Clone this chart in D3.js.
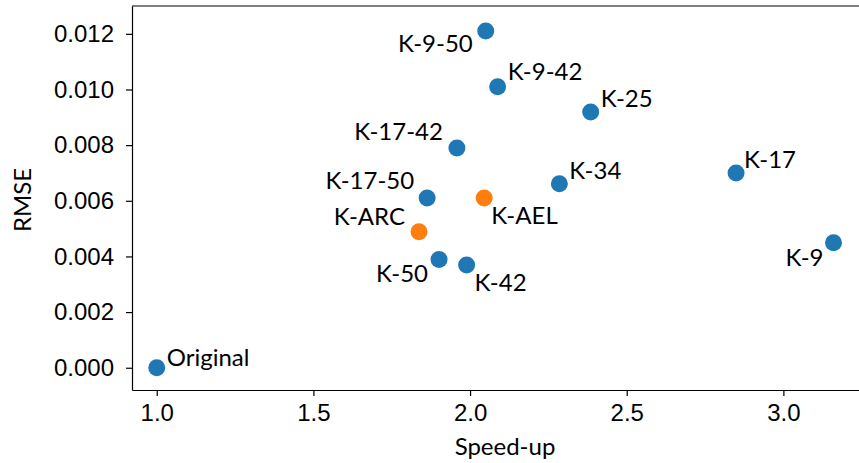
<!DOCTYPE html>
<html>
<head>
<meta charset="utf-8">
<script src="https://cdn.jsdelivr.net/npm/d3@7"></script>
<style>
  body { margin: 0; background: #fff; }
  svg { display: block; font-family: Lato, "Open Sans", sans-serif; }
  .axis text { font-size: 24px; fill: #000; }
  .axis path, .axis line { stroke: #000; stroke-width: 1.2; }
  .lbl { font-size: 24px; fill: #000; }
</style>
</head>
<body>
<svg id="chart" width="859" height="463"></svg>
<script>
// data
var names   = ["Original", "K-9-50", "K-9-42", "K-25", "K-17-42", "K-34", "K-17", "K-9",
               "K-17-50", "K-AEL", "K-ARC", "K-50", "K-42"];
var speedup = [1.000, 2.050, 2.088, 2.385, 1.958, 2.285, 2.849, 3.160,
               1.863, 2.045, 1.837, 1.901, 1.989];
var rmse    = [0.0000, 0.0121, 0.0101, 0.00919, 0.0079, 0.00661, 0.0070, 0.00449,
               0.0061, 0.0061, 0.00489, 0.00389, 0.00369];
var kind    = ["base", "base", "base", "base", "base", "base", "base", "base",
               "base", "new", "new", "base", "base"];
var xTicks = [1.0, 1.5, 2.0, 2.5, 3.0];
var yTicks = [0, 0.002, 0.004, 0.006, 0.008, 0.010, 0.012];

// label placement (px from the dot) : dx, dy, anchor
var labelPos = [[10, -2, "start"], [-13, 21, "end"], [10, -7, "start"], [10, -5, "start"],
                [-14, -8, "end"], [10, -5, "start"], [8, -5, "start"], [-10, 23, "end"],
                [-13, -9, "end"], [7, 26, "start"], [-14, -7, "end"], [-11, 23, "end"],
                [8, 26, "start"]];

var svg = d3.select("#chart"),
    margin = {top: 6, left: 132},
    width = 746,   // right edge runs past the window
    height = 384,
    g = svg.append("g").attr("transform", "translate(" + margin.left + "," + margin.top + ")");

var x = d3.scaleLinear()
    .domain([0.921, 3.302])
    .range([0, width]);

var y = d3.scaleLinear()
    .domain([-0.0008, 0.013])
    .range([height, 0]);

var color = d3.scaleOrdinal()
    .domain(["base", "new"])
    .range(["#1f77b4", "#ff7f0e"]);

g.append("g")
    .attr("class", "axis axis--x")
    .attr("transform", "translate(0," + height + ")")
    .call(d3.axisBottom(x).tickValues(xTicks).tickFormat(d3.format(".1f"))
      .tickSize(6).tickPadding(8).tickSizeOuter(0));

g.append("g")
    .attr("class", "axis axis--y")
    .call(d3.axisLeft(y).tickValues(yTicks).tickFormat(d3.format(".3f"))
      .tickSize(6).tickPadding(12).tickSizeOuter(0));

// top spine
g.append("line")
    .attr("x1", 0).attr("x2", width)
    .attr("y1", 0).attr("y2", 0)
    .attr("stroke", "#000").attr("stroke-width", 1.2);

var idx = d3.range(names.length);

g.selectAll(".dot")
    .data(idx)
  .enter().append("circle")
    .attr("class", "dot")
    .attr("cx", function(i) { return x(speedup[i]); })
    .attr("cy", function(i) { return y(rmse[i]); })
    .attr("r", 8.5)
    .attr("fill", function(i) { return color(kind[i]); });

g.selectAll(".lbl")
    .data(idx)
  .enter().append("text")
    .attr("class", "lbl")
    .attr("x", function(i) { return x(speedup[i]) + labelPos[i][0]; })
    .attr("y", function(i) { return y(rmse[i]) + labelPos[i][1]; })
    .attr("text-anchor", function(i) { return labelPos[i][2]; })
    .text(function(i) { return names[i]; });

svg.append("text")
    .attr("class", "lbl")
    .attr("x", 505)
    .attr("y", 455)
    .attr("text-anchor", "middle")
    .text("Speed-up");

svg.append("text")
    .attr("class", "lbl")
    .attr("transform", "translate(31,200) rotate(-90)")
    .attr("text-anchor", "middle")
    .text("RMSE");
</script>
</body>
</html>
